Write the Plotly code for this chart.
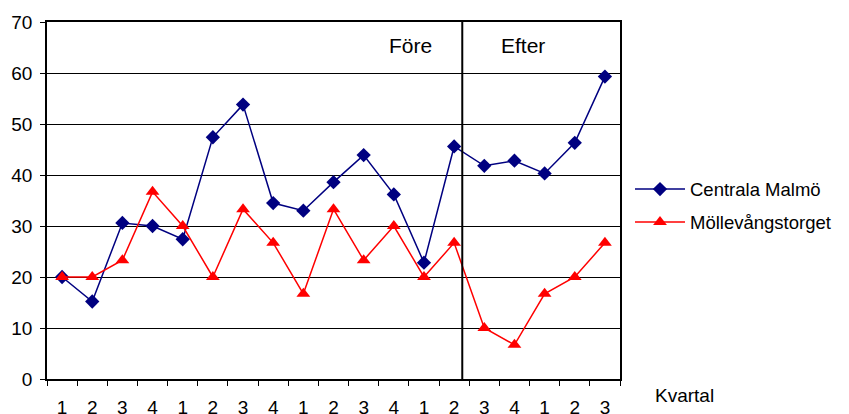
import plotly.graph_objects as go

categories = ["1", "2", "3", "4", "1", "2", "3", "4", "1", "2", "3", "4", "1", "2", "3", "4", "1", "2", "3"]
centrala = [20, 15.2, 30.6, 30, 27.4, 47.4, 53.8, 34.5, 33, 38.6, 43.9, 36.2, 22.8, 45.6, 41.8, 42.8, 40.3, 46.3, 59.3]
mollevang = [20, 20, 23.3, 36.7, 30, 20, 33.3, 26.7, 16.7, 33.3, 23.3, 30, 20, 26.7, 10, 6.7, 16.7, 20, 26.7]
series_names = ["Centrala Malmö", "Möllevångstorget"]
period_labels = ["Före", "Efter"]
divider_pos = 13.27
x_idx = list(range(len(categories)))

FONT = "Liberation Sans, Arial, sans-serif"
OFF = 8  # page body margin
# target screen pixel geometry of plot area
SL, SR, ST, SB = 47, 620, 22, 379
W, H = 849 - OFF, 414 - OFF
L, R, T, B = SL - OFF, SR - OFF, ST - OFF, SB - OFF

def px_x(sx):
    return (sx - SL) / (SR - SL)

def px_y(sy):
    return (SB - sy) / (SB - ST)

fig = go.Figure()
fig.add_trace(go.Scatter(
    x=x_idx, y=centrala, name=series_names[0], mode="lines+markers", legendgroup="a",
    line=dict(color="#000080", width=1.5),
    marker=dict(symbol="diamond", size=11, color="#000080"),
))
fig.add_trace(go.Scatter(
    x=x_idx, y=mollevang, name=series_names[1], mode="lines+markers", legendgroup="b",
    line=dict(color="#FF0000", width=1.5),
    marker=dict(symbol="triangle-up", size=12, color="#FF0000"),
))

fig.add_shape(type="line", xref="x", yref="paper", x0=divider_pos, x1=divider_pos, y0=0, y1=1,
              line=dict(color="black", width=2))

fig.add_annotation(x=11.54, y=65.3, xref="x", yref="y", text=period_labels[0], showarrow=False,
                   xanchor="center", yanchor="middle",
                   font=dict(family=FONT, size=21, color="black"))
fig.add_annotation(x=15.28, y=65.3, xref="x", yref="y", text=period_labels[1], showarrow=False,
                   xanchor="center", yanchor="middle",
                   font=dict(family=FONT, size=21, color="black"))
fig.add_annotation(xref="paper", yref="paper", x=px_x(684), y=px_y(395),
                   xanchor="center", yanchor="middle",
                   text="Kvartal", showarrow=False,
                   font=dict(family=FONT, size=19, color="black"))

fig.update_layout(
    width=W, height=H,
    margin=dict(l=L, r=W - R, t=T, b=H - B, pad=0),
    paper_bgcolor="white", plot_bgcolor="white",
    font=dict(family=FONT, size=19, color="black"),
    showlegend=True,
    legend=dict(x=px_x(630), y=px_y(206), xanchor="left", yanchor="middle",
                font=dict(family=FONT, size=18.5, color="black"), traceorder="grouped",
                bgcolor="rgba(0,0,0,0)", itemwidth=50, tracegroupgap=6),
    xaxis=dict(
        range=[-0.5, len(categories) - 0.5], automargin=False,
        tickmode="array", tickvals=x_idx, ticktext=categories,
        showgrid=False, showline=True, linecolor="black", linewidth=2, mirror=True,
        ticks="", tickfont=dict(size=19), zeroline=False, ticklabelstandoff=10,
    ),
    yaxis=dict(
        range=[0, 70], dtick=10, showgrid=True, gridcolor="black", gridwidth=1, automargin=False,
        showline=True, linecolor="black", linewidth=1.5, mirror=True,
        ticks="outside", ticklen=5, tickcolor="black", tickfont=dict(size=19), zeroline=False,
        ticklabelstandoff=4,
    ),
)

fig.update_xaxes(minor=dict(tickmode="array", tickvals=[i - 0.5 for i in range(len(categories) + 1)],
                            ticks="outside", ticklen=5, tickcolor="black", showgrid=False))

fig.write_html("out.html")
